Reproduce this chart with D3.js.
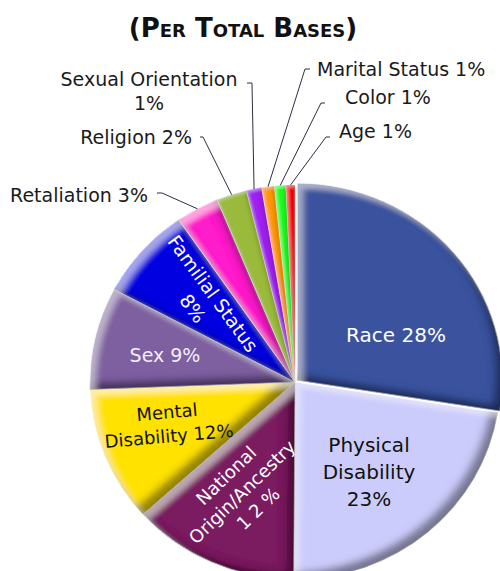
<!DOCTYPE html>
<html>
<head>
<meta charset="utf-8">
<script src="https://cdn.jsdelivr.net/npm/d3@7"></script>
<style>
  body { margin: 0; background: #fff; }
  svg { display: block; font-family: "DejaVu Sans", sans-serif; }
</style>
</head>
<body>
<svg id="chart"></svg>
<script>
      //begin: data
      var bases = ["Race", "Physical Disability", "National Origin/Ancestry", "Mental Disability",
                   "Sex", "Familial Status", "Retaliation", "Religion", "Sexual Orientation",
                   "Marital Status", "Color", "Age"];
      var shares = [27.5, 22.6, 13.2, 11.1, 8.4, 7.6, 3.4, 2.4, 1.2, 1.0, 0.9, 0.7];
      var labelLines = [
        ["Race 28%"],
        ["Physical", "Disability", "23%"],
        ["National", "Origin/Ancestry", "1 2 %"],
        ["Mental", "Disability 12%"],
        ["Sex 9%"],
        ["Familial Status", "8%"],
        ["Retaliation 3%"],
        ["Religion 2%"],
        ["Sexual Orientation", "1%"],
        ["Marital Status 1%"],
        ["Color 1%"],
        ["Age 1%"]
      ];
      var sliceColors = ["#3a539e", "#ccccfc", "#7a1f5e", "#ffe200", "#7e5fa0", "#0000e0",
                         "#ff1acb", "#9aba3a", "#a020f0", "#ff9900", "#22ff22", "#ff0000"];
      //end: data

      //begin: layout conf.
      var svgWidth = 500, svgHeight = 571,
          cx = 295, cy = 382,
          rx = 205, ry = 197,
          explode = 3;

      // inside labels: centre, rotation, colour
      var insideLabels = {
        "Race":                     {x: 396, y: 335, rot: 0,   size: 20, gap: 26, fill: "#fff"},
        "Physical Disability":      {x: 369, y: 472, rot: 0,   size: 20, gap: 27, fill: "#111"},
        "National Origin/Ancestry": {x: 242, y: 492, rot: -44, size: 18, gap: 23, fill: "#fff"},
        "Mental Disability":        {x: 168, y: 424, rot: -5,  size: 18, gap: 24, fill: "#111"},
        "Sex":                      {x: 165, y: 355, rot: 0,   size: 19, gap: 24, fill: "#f2eefa"},
        "Familial Status":          {x: 203, y: 301, rot: 54,  size: 19, gap: 25, fill: "#fff"}
      };
      // outside labels: text anchor point + leader tick
      var outsideLabels = {
        "Retaliation":        {x: 148, y: 202, anchor: "end",    tick: [157, 193], elbow: [162, 193]},
        "Religion":           {x: 192, y: 144, anchor: "end",    tick: [200, 137], elbow: [203, 137]},
        "Sexual Orientation": {x: 149, y: 86,  anchor: "middle", tick: [247, 83],  elbow: [252, 83]},
        "Marital Status":     {x: 317, y: 76,  anchor: "start",  tick: [310, 69],  elbow: [305, 69]},
        "Color":              {x: 345, y: 104, anchor: "start",  tick: [325, 103], elbow: [321, 103]},
        "Age":                {x: 339, y: 138, anchor: "start",  tick: [330, 137], elbow: [326, 137]}
      };
      //end: layout conf.

      var svg = d3.select("#chart")
        .attr("width", svgWidth)
        .attr("height", svgHeight);

      //begin: bevel filters
      var defs = svg.append("defs");
      function addBevel(id, dOff, dBlur, dOp, lOff, lBlur, lOp) {
        var f = defs.append("filter").attr("id", id)
          .attr("x", "-10%").attr("y", "-10%").attr("width", "120%").attr("height", "120%");
        f.append("feOffset").attr("in", "SourceAlpha").attr("dx", -dOff).attr("dy", -dOff).attr("result", "offA");
        f.append("feGaussianBlur").attr("in", "offA").attr("stdDeviation", dBlur).attr("result", "blurA");
        f.append("feComposite").attr("in", "SourceAlpha").attr("in2", "blurA").attr("operator", "out").attr("result", "darkMask");
        f.append("feFlood").attr("flood-color", "#000").attr("flood-opacity", dOp).attr("result", "darkCol");
        f.append("feComposite").attr("in", "darkCol").attr("in2", "darkMask").attr("operator", "in").attr("result", "dark");
        f.append("feOffset").attr("in", "SourceAlpha").attr("dx", lOff).attr("dy", lOff).attr("result", "offB");
        f.append("feGaussianBlur").attr("in", "offB").attr("stdDeviation", lBlur).attr("result", "blurB");
        f.append("feComposite").attr("in", "SourceAlpha").attr("in2", "blurB").attr("operator", "out").attr("result", "lightMask");
        f.append("feFlood").attr("flood-color", "#fff").attr("flood-opacity", lOp).attr("result", "lightCol");
        f.append("feComposite").attr("in", "lightCol").attr("in2", "lightMask").attr("operator", "in").attr("result", "light");
        var merge = f.append("feMerge");
        merge.append("feMergeNode").attr("in", "SourceGraphic");
        merge.append("feMergeNode").attr("in", "dark");
        merge.append("feMergeNode").attr("in", "light");
      }
      addBevel("bevel", 7, 4, 0.7, 6, 3, 0.38);
      addBevel("bevelThin", 3, 2, 0.35, 2, 1.5, 0.25);
      //end: bevel filters

      // title
      svg.append("text")
        .attr("x", 243).attr("y", 37)
        .attr("text-anchor", "middle")
        .style("font-size", "26px")
        .style("font-weight", "bold")
        .style("font-variant", "small-caps")
        .style("fill", "#111")
        .text("(Per Total Bases)");

      //begin: pie
      var pie = d3.pie().sort(null).value(function(d){ return d; });
      var arcs = pie(shares);
      var arc = d3.arc().innerRadius(0).outerRadius(rx);

      var pieG = svg.append("g")
        .attr("transform", "translate(" + [cx, cy] + ") scale(1," + (ry / rx) + ")");

      pieG.selectAll("path.slice")
        .data(arcs)
        .enter().append("path")
          .classed("slice", true)
          .attr("transform", function(d, i){
            if (i !== 0) return null;
            var mid = (d.startAngle + d.endAngle) / 2;
            return "translate(" + [explode * Math.sin(mid), -explode * Math.cos(mid)] + ")";
          })
          .attr("d", arc)
          .style("fill", function(d, i){ return sliceColors[i]; })
          .style("stroke", "#fff")
          .style("stroke-width", function(d){ return (d.endAngle - d.startAngle) < 0.2 ? 0.4 : 0.8; })
          .attr("filter", function(d){
            return (d.endAngle - d.startAngle) < 0.2 ? "url(#bevelThin)" : "url(#bevel)";
          });
      //end: pie

      function rimPoint(d) {
        var mid = (d.startAngle + d.endAngle) / 2;
        return [cx + rx * Math.sin(mid), cy - ry * Math.cos(mid)];
      }

      //begin: labels
      arcs.forEach(function(d, i){
        var name = bases[i], lines = labelLines[i];
        if (insideLabels[name]) {
          var c = insideLabels[name];
          var t = svg.append("text")
            .attr("transform", "translate(" + [c.x, c.y] + ") rotate(" + c.rot + ")")
            .attr("text-anchor", "middle")
            .style("font-size", c.size + "px")
            .style("fill", c.fill);
          lines.forEach(function(line, k){
            t.append("tspan")
              .attr("x", 0)
              .attr("y", (k - (lines.length - 1) / 2) * c.gap)
              .attr("dy", "0.36em")
              .text(line);
          });
        } else if (outsideLabels[name]) {
          var o = outsideLabels[name];
          var p = rimPoint(d);
          svg.append("path")
            .attr("d", "M" + [o.tick, o.elbow, p].join("L"))
            .style("fill", "none")
            .style("stroke", "#2b2f45")
            .style("stroke-width", 1);
          var t2 = svg.append("text")
            .attr("text-anchor", o.anchor)
            .style("font-size", "19px")
            .style("fill", "#1a1a1a");
          lines.forEach(function(line, k){
            t2.append("tspan")
              .attr("x", o.x)
              .attr("y", o.y + k * 24)
              .text(line);
          });
        }
      });
      //end: labels
</script>
</body>
</html>
